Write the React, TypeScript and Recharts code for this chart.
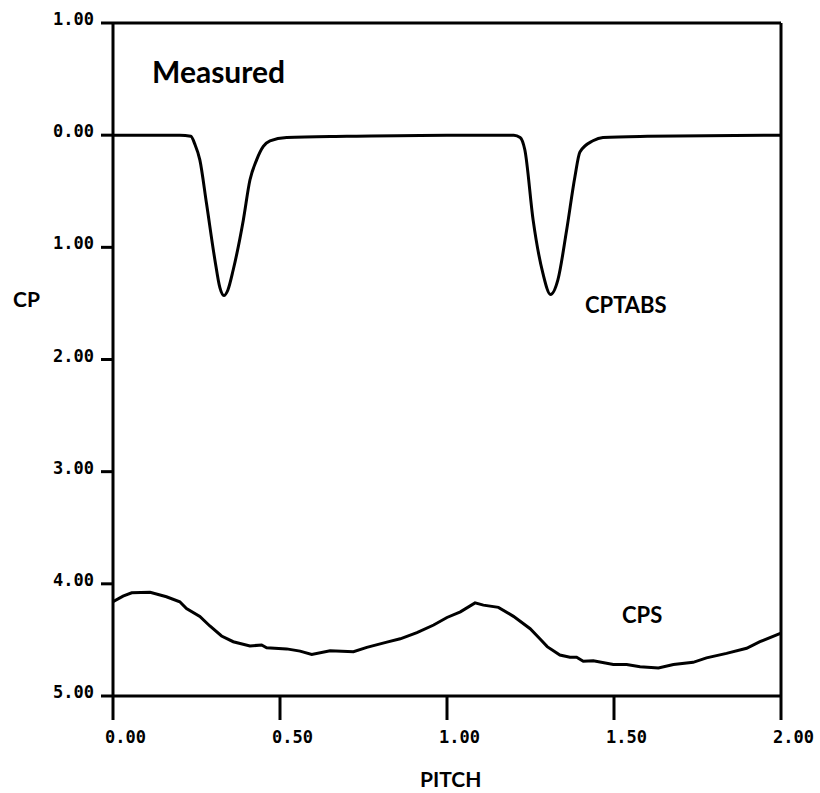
import React from "react";
import { LineChart, Line, XAxis, YAxis, ReferenceLine } from "recharts";

const xTicks = [0, 0.5, 1, 1.5, 2];
const yTicks = [-1, 0, 1, 2, 3, 4, 5];

const cptabsPitch = [0, 0.2, 0.233, 0.245, 0.26, 0.28, 0.305, 0.32, 0.332, 0.344, 0.36, 0.39, 0.41, 0.43, 0.45, 0.47, 0.52, 0.7, 1.0, 1.2, 1.219, 1.233, 1.258, 1.287, 1.31, 1.332, 1.358, 1.383, 1.398, 1.437, 1.467, 1.6, 2.0];
const cptabsValues = [0, 0, 0.01, 0.08, 0.22, 0.61, 1.11, 1.36, 1.43, 1.38, 1.2, 0.76, 0.4, 0.22, 0.1, 0.05, 0.02, 0.01, 0, 0, 0.02, 0.13, 0.76, 1.23, 1.42, 1.29, 0.85, 0.37, 0.15, 0.05, 0.02, 0.01, 0];

const cpsPitch = [0, 0.03, 0.056, 0.111, 0.16, 0.2, 0.22, 0.26, 0.29, 0.325, 0.36, 0.41, 0.445, 0.46, 0.52, 0.56, 0.595, 0.65, 0.72, 0.76, 0.82, 0.86, 0.91, 0.96, 1.0, 1.04, 1.084, 1.109, 1.154, 1.199, 1.249, 1.278, 1.3, 1.338, 1.368, 1.388, 1.408, 1.438, 1.498, 1.538, 1.578, 1.633, 1.678, 1.737, 1.777, 1.837, 1.897, 1.937, 2.0];
const cpsValues = [4.16, 4.11, 4.08, 4.076, 4.115, 4.16, 4.22, 4.29, 4.376, 4.465, 4.516, 4.554, 4.545, 4.57, 4.58, 4.6, 4.63, 4.596, 4.605, 4.566, 4.52, 4.49, 4.435, 4.367, 4.3, 4.25, 4.17, 4.19, 4.21, 4.29, 4.4, 4.49, 4.56, 4.635, 4.655, 4.655, 4.69, 4.685, 4.72, 4.72, 4.74, 4.75, 4.72, 4.7, 4.66, 4.62, 4.575, 4.516, 4.44];

const cptabsData = cptabsPitch.map((p, i) => ({ pitch: p, cp: cptabsValues[i] }));
const cpsData = cpsPitch.map((p, i) => ({ pitch: p, cp: cpsValues[i] }));

const tickFont = { fontFamily: "'DejaVu Sans Mono', monospace", fontWeight: "bold" as const, fontSize: 17, fill: "#000" };
const labelFont = { fontFamily: "Lato, 'Open Sans', sans-serif", fontWeight: "bold" as const, fill: "#000" };

const fmt = (v: number) => Math.abs(v).toFixed(2);

const YTick = (props: any) => {
  const { x, y, payload } = props;
  return (
    <text x={x} y={y} dy={2} textAnchor="end" style={tickFont}>
      {fmt(payload.value)}
    </text>
  );
};

const XTick = (props: any) => {
  const { x, y, payload } = props;
  return (
    <text x={x - 8} y={y} dy={12} textAnchor="start" style={tickFont}>
      {fmt(payload.value)}
    </text>
  );
};

export default function App() {
  return (
    <div style={{ position: "absolute", left: 0, top: 0, width: 820, height: 793, background: "#fff" }}>
      <LineChart width={820} height={793} margin={{ top: 23, right: 39, bottom: 37, left: 13 }}>
        <XAxis
          type="number"
          dataKey="pitch"
          domain={[0, 2]}
          ticks={xTicks}
          allowDataOverflow
          height={60}
          tickSize={24}
          tickMargin={11}
          tick={<XTick />}
          axisLine={{ stroke: "#000", strokeWidth: 3 }}
          tickLine={{ stroke: "#000", strokeWidth: 3 }}
        />
        <YAxis
          type="number"
          dataKey="cp"
          domain={[-1, 5]}
          ticks={yTicks}
          reversed
          allowDataOverflow
          width={100}
          tickSize={12}
          tickMargin={7}
          tick={<YTick />}
          axisLine={{ stroke: "#000", strokeWidth: 3 }}
          tickLine={{ stroke: "#000", strokeWidth: 3 }}
        />
        <ReferenceLine y={-1} stroke="#000" strokeWidth={3} />
        <ReferenceLine x={2} stroke="#000" strokeWidth={3} />
        <Line data={cptabsData} dataKey="cp" type="monotone" stroke="#000" strokeWidth={3} dot={false} isAnimationActive={false} />
        <Line data={cpsData} dataKey="cp" type="linear" stroke="#000" strokeWidth={3} dot={false} isAnimationActive={false} />
      </LineChart>
      <svg width={820} height={793} style={{ position: "absolute", left: 0, top: 0, pointerEvents: "none" }}>
        <text x={152} y={83} style={{ ...labelFont, fontSize: 30 }}>Measured</text>
        <text x={13} y={307} style={{ ...labelFont, fontSize: 21 }}>CP</text>
        <text x={585} y={313} style={{ ...labelFont, fontSize: 22 }}>CPTABS</text>
        <text x={622} y={623} style={{ ...labelFont, fontSize: 22 }}>CPS</text>
        <text x={420} y={787} style={{ ...labelFont, fontSize: 21 }}>PITCH</text>
      </svg>
    </div>
  );
}
